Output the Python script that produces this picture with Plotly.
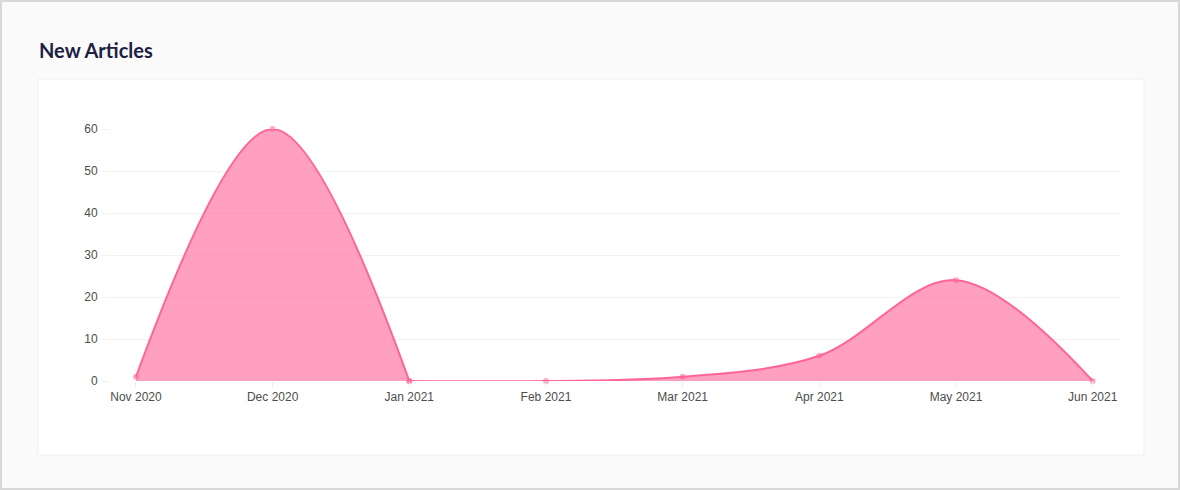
import plotly.graph_objects as go

months = ["Nov 2020", "Dec 2020", "Jan 2021", "Feb 2021", "Mar 2021", "Apr 2021", "May 2021", "Jun 2021"]
new_articles = [1, 60, 0, 0, 1, 6, 24, 0]
y_ticks = [0, 10, 20, 30, 40, 50, 60]

W, H = 1180, 490
L, R, T, B = 110, 60, 129, 109
pw, ph = W - L - R, H - T - B


def px_x(p):
    return (p - L) / pw


def px_y(p):
    return (H - B - p) / ph


x_idx = list(range(len(months)))

fig = go.Figure()
# split at Jan 2021 so the spline does not overshoot below zero on the flat part
for sl in (slice(0, 3), slice(2, None)):
    fig.add_trace(go.Scatter(
        x=x_idx[sl],
        y=new_articles[sl],
        mode="lines+markers",
        line=dict(color="#ff6597", width=2, shape="spline", smoothing=1.0),
        marker=dict(size=6, color="rgba(255,101,151,0.55)"),
        fill="tozeroy",
        fillcolor="rgba(255,120,165,0.7)",
        cliponaxis=False,
        customdata=months[sl],
        hovertemplate="%{customdata}: %{y}<extra></extra>",
    ))

fig.update_layout(
    width=W, height=H,
    margin=dict(l=L, r=R, t=T, b=B),
    paper_bgcolor="#fafafa",
    plot_bgcolor="rgba(0,0,0,0)",
    showlegend=False,
    font=dict(family="Liberation Sans, Arial, sans-serif", size=12, color="#4d4d4d"),
    xaxis=dict(
        range=[-0.19, 7.2],
        tickmode="array",
        tickvals=x_idx,
        ticktext=months,
        showgrid=False,
        zeroline=False,
        ticks="outside", ticklen=5, tickcolor="#ececec",
        showline=False,
        fixedrange=True,
    ),
    yaxis=dict(
        range=[0, 60],
        tickvals=y_ticks,
        gridcolor="#f2f2f2",
        zeroline=False,
        ticks="outside", ticklen=7, tickcolor="#f2f2f2",
        ticklabelstandoff=2,
        fixedrange=True,
    ),
    shapes=[
        # white card
        dict(type="rect", xref="paper", yref="paper", layer="below",
             x0=px_x(38), x1=px_x(1144), y0=px_y(455), y1=px_y(79),
             fillcolor="white", line=dict(color="#f0f0f0", width=1)),
        # outer border
        dict(type="rect", xref="paper", yref="paper", layer="below",
             x0=px_x(1), x1=px_x(W - 1), y0=px_y(H - 1), y1=px_y(1),
             fillcolor="rgba(0,0,0,0)", line=dict(color="#d8d8d8", width=2)),
    ],
    annotations=[
        dict(text="<b>New Articles</b>", xref="paper", yref="paper",
             x=px_x(37), y=px_y(50), xanchor="left", yanchor="middle",
             showarrow=False,
             font=dict(family="Lato, sans-serif", size=20, color="#1c2142")),
    ],
)

fig.write_html("out.html", config={"displayModeBar": False},
               post_script="document.body.style.margin='0';")
